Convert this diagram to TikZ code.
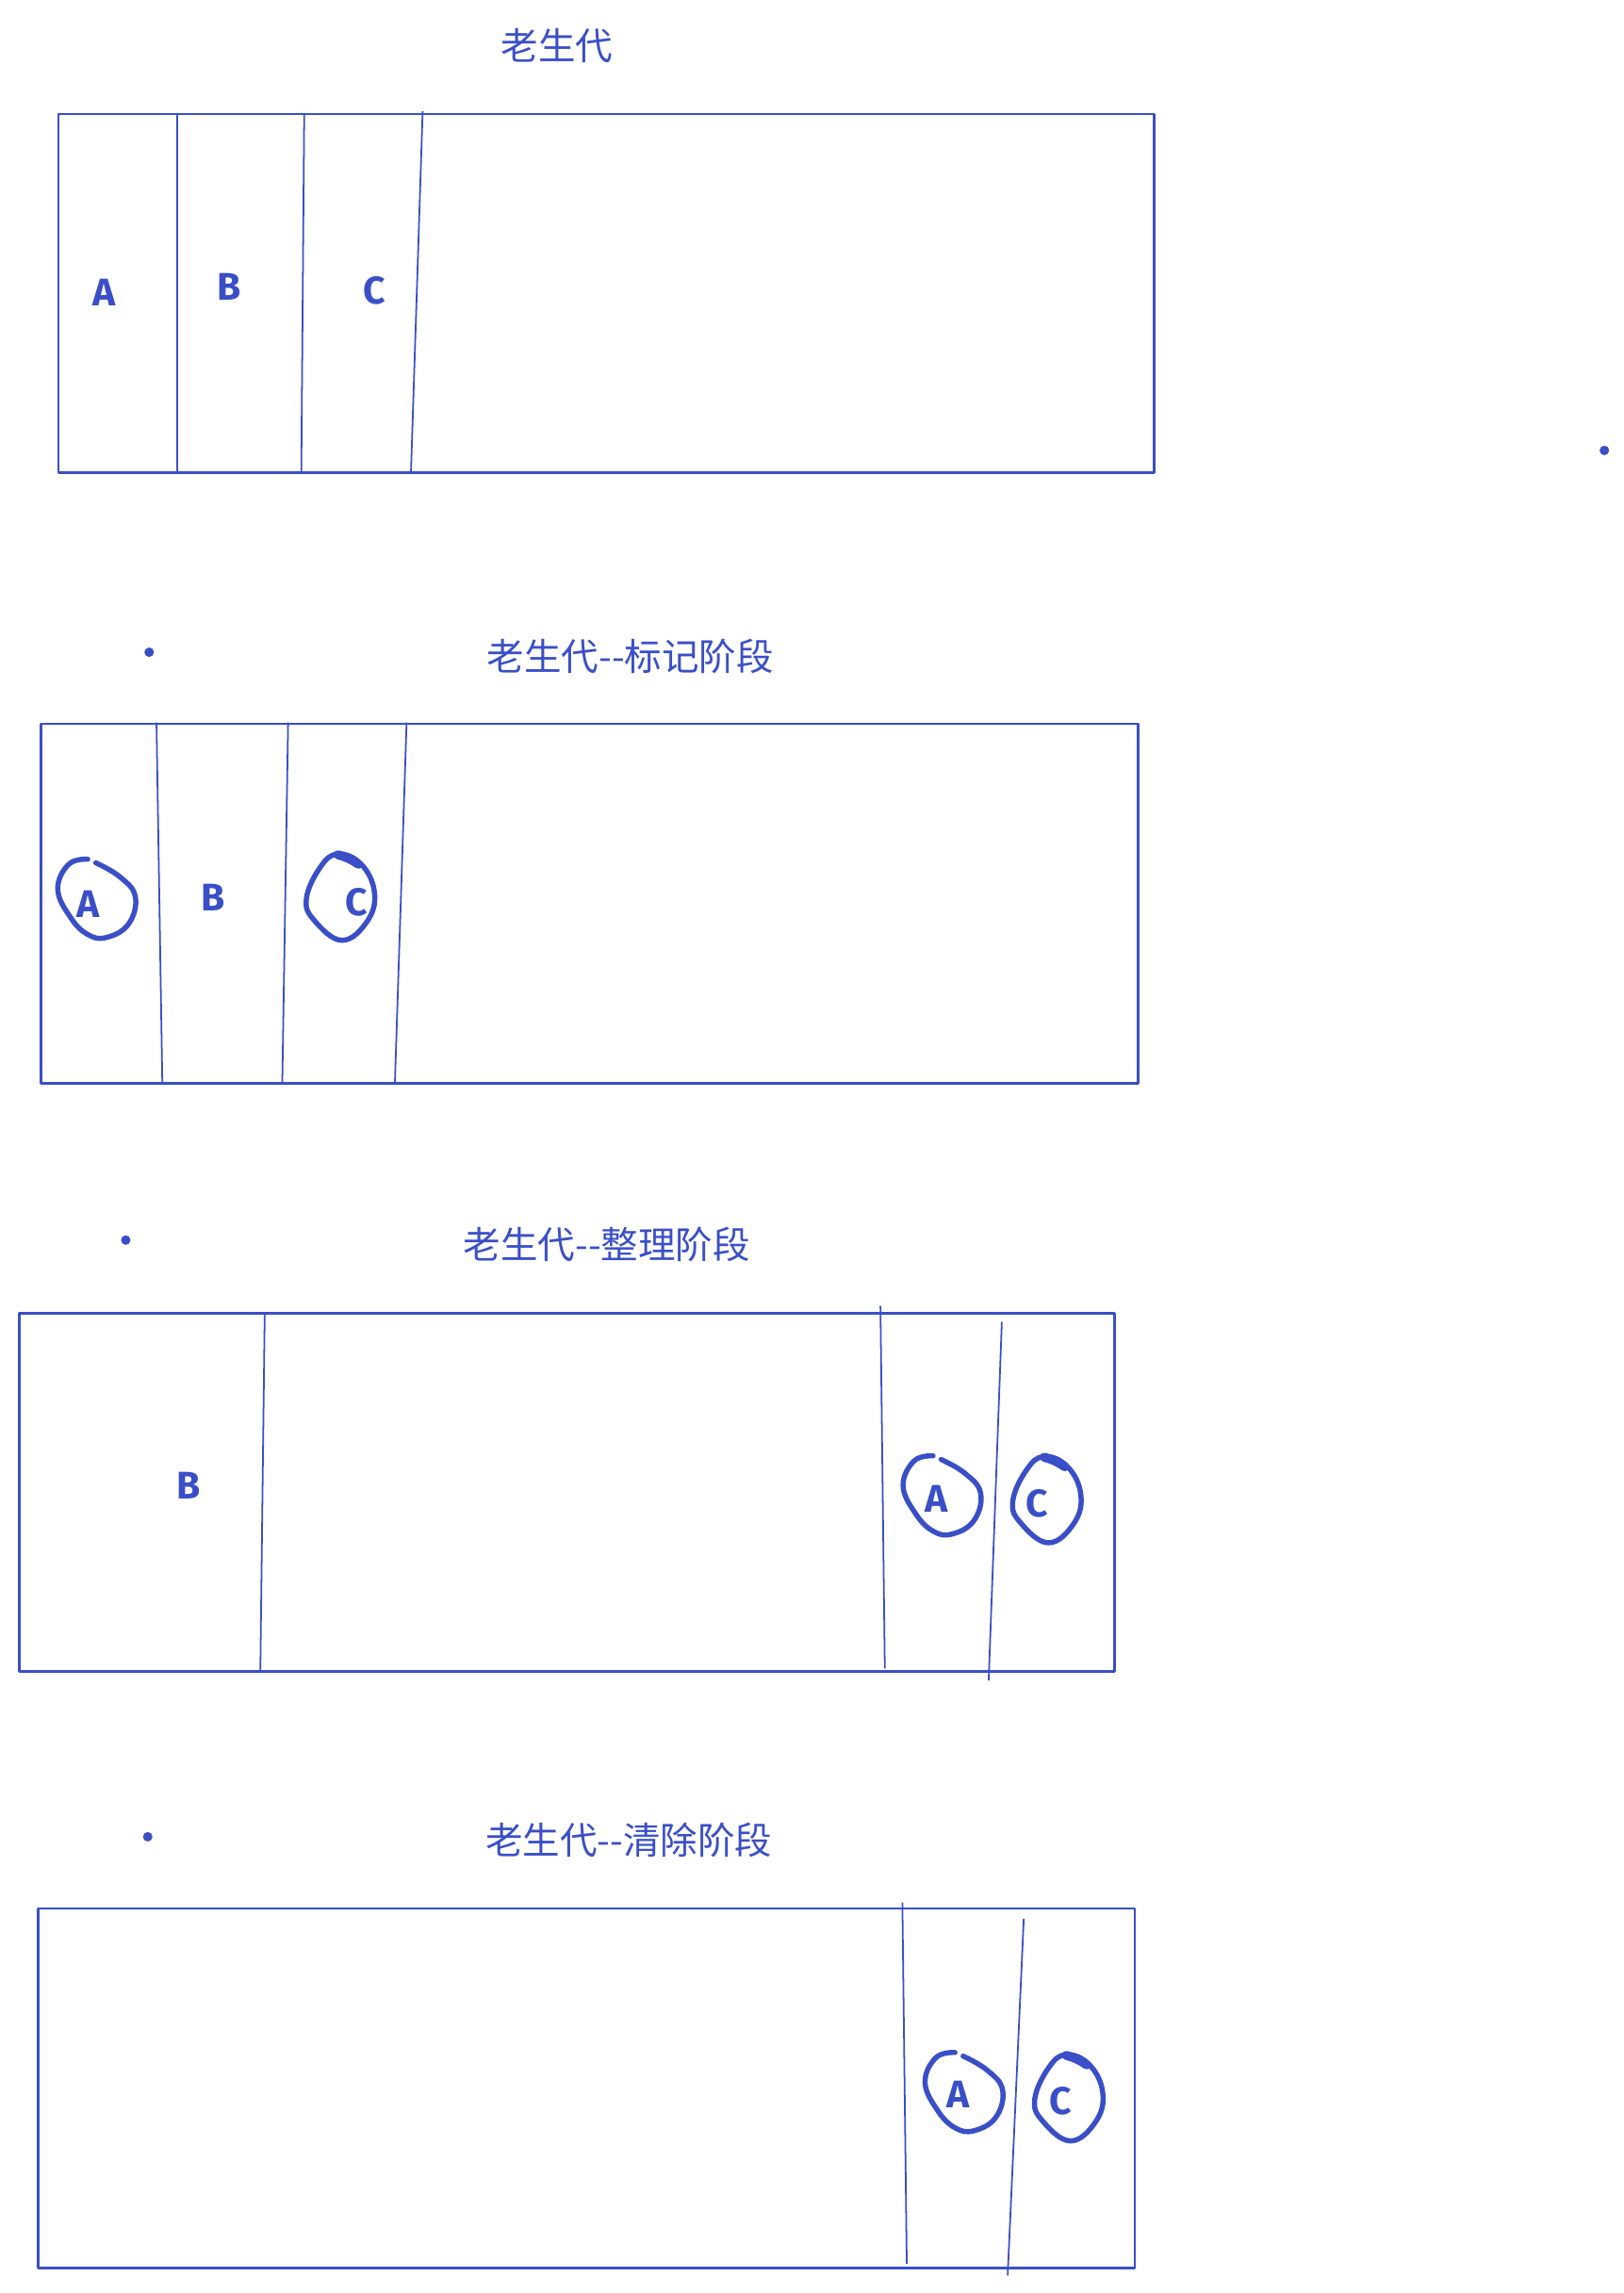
\documentclass[tikz,border=0pt]{standalone}
\usepackage{fontspec}
\setmainfont{Noto Sans CJK SC}
\newfontfamily\handfont{Fira Sans}
\definecolor{ink}{HTML}{3A4FC7}
\tikzset{
  frame/.style={draw=ink, line width=1pt, line join=round},
  divider/.style={draw=ink, line width=0.65pt},
  title/.style={text=ink, font=\fontsize{14.5pt}{16pt}\selectfont, inner sep=0pt},
  letter/.style={text=ink, font=\handfont\bfseries\fontsize{15pt}{17pt}\selectfont, inner sep=0pt},
  ring/.style={draw=ink, line width=2pt, line cap=round, line join=round},
  dotmark/.style={circle, fill=ink, inner sep=0pt, minimum size=0.13cm},
  ringA/.pic={
    \draw[ring] plot[smooth, tension=0.7] coordinates {(-0.5,-24) (15.7,-14.6) (26.5,-1) (22,17.7) (7,27) (-6,25) (-18,13) (-26.5,-6) (-19,-23) (-6,-26.5)};
  },
  ringC/.pic={
    \draw[ring] plot[smooth cycle, tension=0.7] coordinates {(-2,-29) (14,-22) (23,-3) (18.4,16.5) (1,30) (-18,16.5) (-23.5,1.5) (-14,-20)};
    \draw[ring, line width=3.5pt] (-2,-28.5) to[bend left=10] (12,-22);
  }
}
\begin{document}
\begin{tikzpicture}[x=0.02cm, y=-0.02cm]
\useasboundingbox (0,0) rectangle (1110,1568);

% ---------- panel 1 ----------
\node[title] (t1) at (381,31) {老生代};
\draw[frame] (40,78) coordinate (b1tl) rectangle (789,323) coordinate (b1br);
\draw[divider] (121,78) -- (121,323);
\draw[divider] (208,78) -- (206,323);
\draw[divider] (289,76) -- (281,323);
\node[letter] (a1) at (71,200) {A};
\node[letter] (bb1) at (157,196) {B};
\node[letter] (c1) at (256,199) {C};
\node[dotmark] (d0) at (1097,308) {};

% ---------- panel 2 ----------
\node[dotmark] (d2) at (102,446) {};
\node[title] (t2) at (431,449) {老生代{-}{-}标记阶段};
\draw[frame] (28,495) coordinate (b2tl) rectangle (778,741) coordinate (b2br);
\draw[divider] (107,494) -- (111,741);
\draw[divider] (197,494) -- (193,741);
\draw[divider] (278,494) -- (270,741);
\node[letter] (a2) at (60,618) {A};
\node[letter] (bb2) at (146,614) {B};
\node[letter] (c2) at (244,617) {C};
\pic (ra2) at (66,614) {ringA};
\pic (rc2) at (233,613) {ringC};

% ---------- panel 3 ----------
\node[dotmark] (d3) at (86,848) {};
\node[title] (t3) at (415,851) {老生代{-}{-}整理阶段};
\draw[frame] (13,898) coordinate (b3tl) rectangle (762,1143) coordinate (b3br);
\draw[divider] (181,898) -- (178,1143);
\draw[divider] (602,893) -- (605,1141);
\draw[divider] (685,904) -- (676,1149);
\node[letter] (bb3) at (129,1016) {B};
\node[letter] (a3) at (640,1025) {A};
\node[letter] (c3) at (709,1028) {C};
\pic (ra3) at (644,1022) {ringA};
\pic (rc3) at (716,1025) {ringC};

% ---------- panel 4 ----------
\node[dotmark] (d4) at (101,1256) {};
\node[title] (t4) at (430,1258) {老生代{-}{-}清除阶段};
\draw[frame] (26,1305) coordinate (b4tl) rectangle (776,1551) coordinate (b4br);
\draw[divider] (617,1301) -- (620,1548);
\draw[divider] (700,1312) -- (689,1556);
\node[letter] (a4) at (655,1432) {A};
\node[letter] (c4) at (725,1437) {C};
\pic (ra4) at (659,1430) {ringA};
\pic (rc4) at (731,1434) {ringC};
\end{tikzpicture}
\end{document}
